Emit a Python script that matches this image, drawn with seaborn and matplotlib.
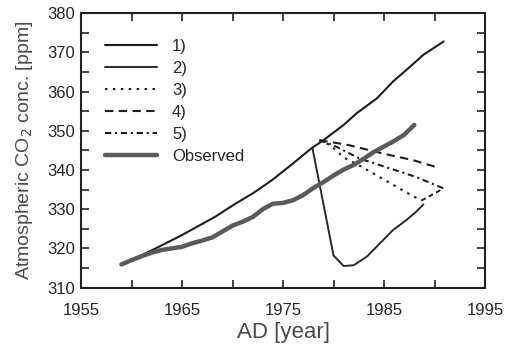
import numpy as np
import pandas as pd
import seaborn as sns
import matplotlib.pyplot as plt
from matplotlib.ticker import MultipleLocator

# Observed (Mauna Loa style) record
obs_year = [1959, 1960, 1961, 1962, 1963, 1964, 1965, 1966, 1967, 1968, 1969, 1970,
            1971, 1972, 1973, 1974, 1975, 1976, 1977, 1978, 1979, 1980, 1981, 1982,
            1983, 1984, 1985, 1986, 1987, 1988]
obs_ppm = [315.9, 317.0, 318.0, 318.9, 319.6, 320.0, 320.4, 321.3, 322.0, 322.8, 324.3, 325.8,
           326.8, 328.0, 330.0, 331.4, 331.6, 332.3, 333.6, 335.4, 336.9, 338.6, 340.1, 341.3,
           342.9, 344.6, 346.0, 347.4, 349.0, 351.5]

# 1) unperturbed projection
s1_year = [1959, 1961.7, 1965, 1968.3, 1970.1, 1972.1, 1973.9, 1976, 1977.8, 1979,
           1981, 1982.3, 1984.3, 1985.9, 1987.6, 1988.9, 1990.9]
s1_ppm = [315.9, 319.1, 323.4, 328.1, 331.1, 334.2, 337.4, 341.7, 345.5, 347.6,
          351.5, 354.5, 358.3, 362.6, 366.4, 369.4, 372.8]

# 2) sharp drop after 1978
s2_year = [1977.9, 1980.0, 1981.0, 1982.0, 1983.3, 1984.6, 1985.9, 1987.2, 1988.2, 1988.9]
s2_ppm = [345.8, 318.2, 315.5, 315.7, 317.9, 321.3, 324.7, 327.2, 329.4, 331.2]

# 3) dotted
s3_year = [1978.6, 1979.7, 1981.0, 1982.6, 1984.9, 1987.2, 1988.7]
s3_ppm = [347.6, 346.3, 343.2, 341.1, 337.7, 334.3, 332.2]

# 4) dashed
s4_year = [1978.6, 1979.6, 1981.6, 1984.9, 1987.9, 1990.5]
s4_ppm = [347.6, 347.2, 346.3, 344.2, 342.5, 340.5]

# 5) dash-dot
s5_year = [1978.6, 1980.0, 1982.6, 1985.6, 1988.2, 1990.9]
s5_ppm = [347.6, 346.3, 342.9, 340.4, 338.2, 335.3]

# short link drawn between end of 3) and end of 5)
link_year = [1988.7, 1990.9]
link_ppm = [332.2, 335.3]

x_ticks = [1955, 1965, 1975, 1985, 1995]
legend_labels = ["1)", "2)", "3)", "4)", "5)", "Observed"]

sns.set_theme(style="ticks")
plt.rcParams['font.family'] = ['Liberation Sans', 'DejaVu Sans']

fig = plt.figure(figsize=(5.14, 3.49), dpi=100)
ax = fig.add_axes([0.1576, 0.176, 0.786, 0.786])

ink = "#1e1e1e"
sns.lineplot(x=s1_year, y=s1_ppm, ax=ax, color=ink, lw=1.5, label=legend_labels[0])
sns.lineplot(x=s2_year, y=s2_ppm, ax=ax, color="#2a2a2a", lw=1.4, label=legend_labels[1])
sns.lineplot(x=s3_year, y=s3_ppm, ax=ax, color=ink, lw=1.5, label=legend_labels[2],
             linestyle=(0, (1.2, 2.6)))
sns.lineplot(x=s4_year, y=s4_ppm, ax=ax, color=ink, lw=1.5, label=legend_labels[3],
             linestyle=(0, (4, 2.6)))
sns.lineplot(x=s5_year, y=s5_ppm, ax=ax, color=ink, lw=1.5, label=legend_labels[4],
             linestyle=(0, (3, 1.8, 1, 1.8)))
sns.lineplot(x=obs_year, y=obs_ppm, ax=ax, color="#5a5a5a", lw=3.2, label=legend_labels[5])
sns.lineplot(x=link_year, y=link_ppm, ax=ax, color=ink, lw=1.4, linestyle=(0, (2.5, 1.8)))

ax.set_xlim(1955, 1995)
ax.set_ylim(310, 380)
ax.set_xticks(x_ticks)
ax.xaxis.set_minor_locator(MultipleLocator(5))
ax.yaxis.set_major_locator(MultipleLocator(10))
ax.yaxis.set_minor_locator(MultipleLocator(5))
ax.tick_params(which="both", direction="in", top=True, right=True, color="#222")
ax.tick_params(which="major", length=6, width=1.2, labelsize=12, pad=4)
ax.tick_params(which="minor", length=6, width=1.2)
ax.tick_params(axis="x", which="major", pad=11)
for sp in ax.spines.values():
    sp.set_linewidth(1.5)
    sp.set_color("#222")

ax.set_xlabel("AD [year]", fontsize=16, color="#4a4a4a", labelpad=3)
ax.set_ylabel("Atmospheric CO$_2$ conc. [ppm]", fontsize=14, color="#4a4a4a", labelpad=9)

ax.legend(loc="upper left", bbox_to_anchor=(0.06, 0.905), frameon=False, fontsize=12,
          handlelength=3.1, handletextpad=0.9, labelspacing=0.42, borderpad=0,
          borderaxespad=0)

plt.savefig("out.png", dpi=100)
plt.close()
